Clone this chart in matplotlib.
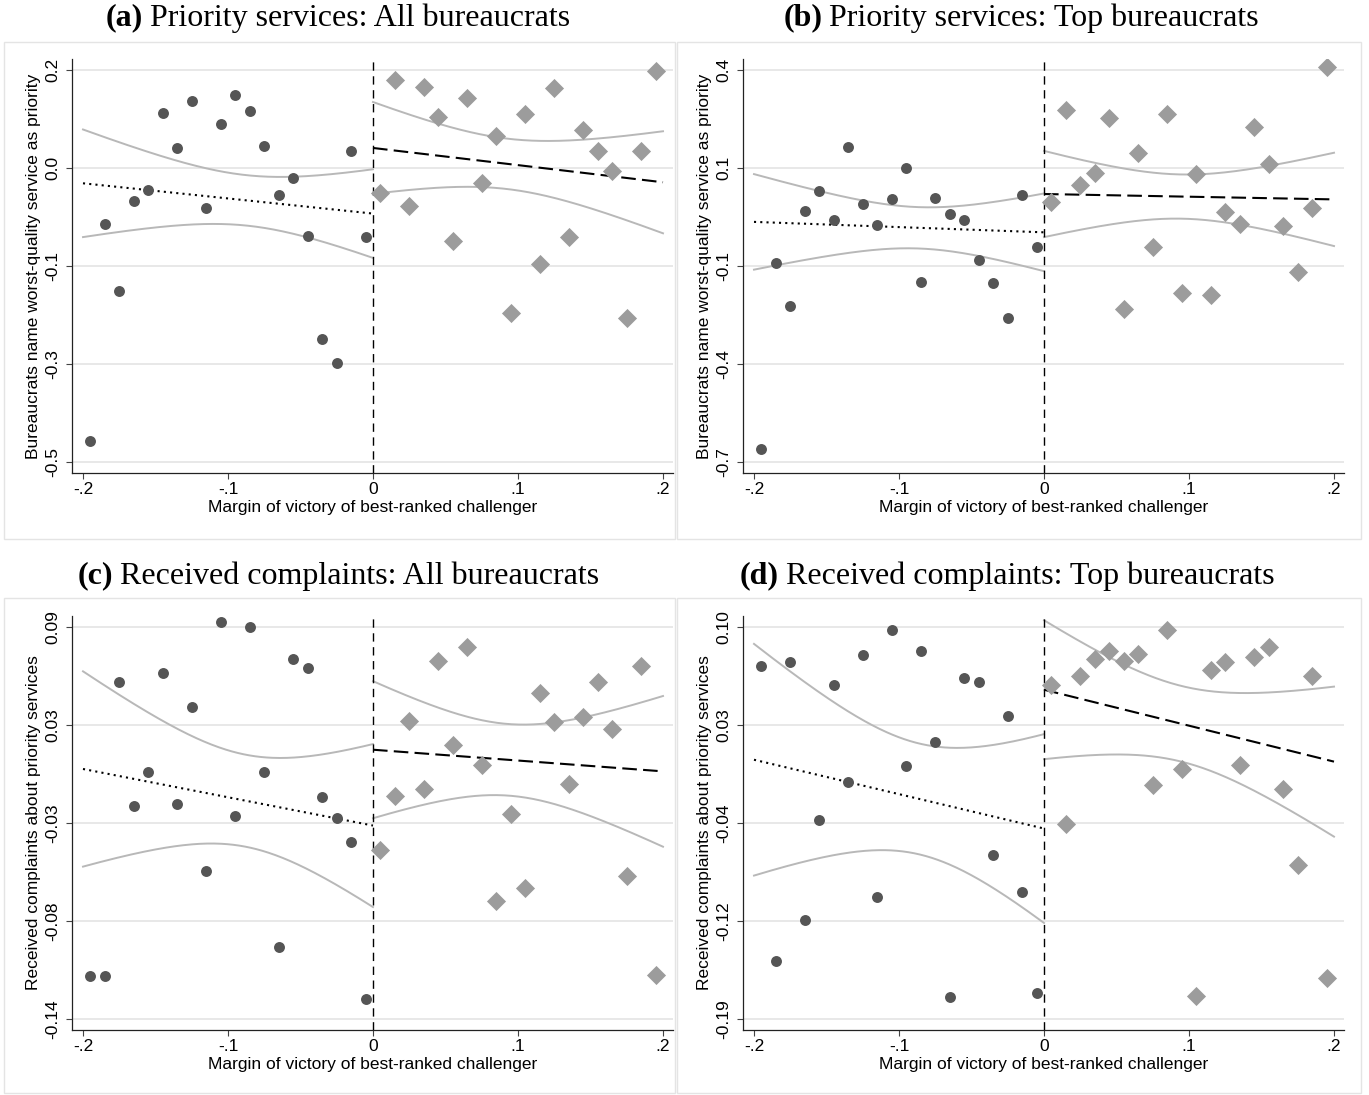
# ---------------------------------------
# 1. Imports
# ---------------------------------------
import numpy as np
import matplotlib.pyplot as plt
from matplotlib.patches import Rectangle

# ---------------------------------------
# 2. Data (binned means)
# ---------------------------------------
bins_left = [-0.195, -0.185, -0.175, -0.165, -0.155, -0.145, -0.135, -0.125, -0.115, -0.105,
             -0.095, -0.085, -0.075, -0.065, -0.055, -0.045, -0.035, -0.025, -0.015, -0.005]
bins_right = [0.005, 0.015, 0.025, 0.035, 0.045, 0.055, 0.065, 0.075, 0.085, 0.095,
              0.105, 0.115, 0.125, 0.135, 0.145, 0.155, 0.165, 0.175, 0.185, 0.195]

# (a) priority services, all bureaucrats
a_left = [-0.463, -0.075, -0.194, -0.034, -0.014, 0.124, 0.060, 0.145, -0.046, 0.104,
          0.156, 0.126, 0.064, -0.023, 0.008, -0.097, -0.281, -0.324, 0.055, -0.098]
a_right = [-0.020, 0.183, -0.043, 0.169, 0.116, -0.106, 0.150, -0.001, 0.083, -0.234,
           0.122, -0.146, 0.168, -0.099, 0.093, 0.055, 0.020, -0.243, 0.055, 0.199]

# (b) priority services, top bureaucrats
b_left = [-0.664, -0.142, -0.262, 0.004, 0.060, -0.021, 0.185, 0.025, -0.035, 0.038,
          0.124, -0.194, 0.041, -0.005, -0.021, -0.134, -0.197, -0.296, 0.048, -0.096]
b_right = [0.029, 0.289, 0.077, 0.112, 0.264, -0.271, 0.166, -0.097, 0.277, -0.226,
           0.108, -0.230, 0.001, -0.031, 0.240, 0.136, -0.039, -0.166, 0.012, 0.408]

# (c) received complaints, all bureaucrats
c_left = [-0.115, -0.115, 0.058, -0.015, 0.005, 0.063, -0.014, 0.043, -0.053, 0.093,
          -0.021, 0.090, 0.005, -0.098, 0.071, 0.066, -0.010, -0.022, -0.036, -0.128]
c_right = [-0.041, -0.009, 0.035, -0.005, 0.070, 0.021, 0.078, 0.009, -0.071, -0.020,
           -0.063, 0.051, 0.034, -0.002, 0.037, 0.058, 0.030, -0.056, 0.067, -0.114]

# (d) received complaints, top bureaucrats
d_left = [0.071, -0.147, 0.074, -0.117, -0.043, 0.057, -0.015, 0.079, -0.100, 0.098,
          -0.003, 0.082, 0.015, -0.174, 0.062, 0.059, -0.069, 0.034, -0.096, -0.171]
d_right = [0.057, -0.046, 0.064, 0.076, 0.082, 0.075, 0.080, -0.017, 0.098, -0.005,
           -0.173, 0.068, 0.074, -0.002, 0.078, 0.085, -0.020, -0.076, 0.064, -0.160]

# linear fit + 95% CI: [value at cutoff, slope, min half-width, se slope term, x of min]
fit_a_left = [-0.0564, -0.2705, 0.045, 0.750, -0.0868]
fit_a_right = [0.0608, -0.3065, 0.045, 0.739, 0.0928]
fit_b_left = [-0.0555, -0.1465, 0.058, 1.066, -0.0866]
fit_b_right = [0.0520, -0.0755, 0.062, 1.096, 0.0948]
fit_c_left = [-0.0265, -0.1660, 0.027, 0.450, -0.0877]
fit_c_right = [0.0180, -0.0635, 0.021, 0.366, 0.0937]
fit_d_left = [-0.0491, -0.2545, 0.041, 0.659, -0.0858]
fit_d_right = [0.0536, -0.2660, 0.028, 0.455, 0.0947]

# y ticks (Stata evenly spaced ticks, rounded labels)
yticks_a = [-0.5, -0.325, -0.15, 0.025, 0.2]
ylabels_a = ['-0.5', '-0.3', '-0.1', '0.0', '0.2']
yticks_b = [-0.7, -0.425, -0.15, 0.125, 0.4]
ylabels_b = ['-0.7', '-0.4', '-0.1', '0.1', '0.4']
yticks_c = [-0.14, -0.0825, -0.025, 0.0325, 0.09]
ylabels_c = ['-0.14', '-0.08', '-0.03', '0.03', '0.09']
yticks_d = [-0.19, -0.1175, -0.045, 0.0275, 0.10]
ylabels_d = ['-0.19', '-0.12', '-0.04', '0.03', '0.10']

xticks = [-0.2, -0.1, 0, 0.1, 0.2]
xlabels = ['-.2', '-.1', '0', '.1', '.2']

titles_bold = ['(a)', '(b)', '(c)', '(d)']
titles_text = ['Priority services: All bureaucrats', 'Priority services: Top bureaucrats',
               'Received complaints: All bureaucrats', 'Received complaints: Top bureaucrats']
ylab_top = 'Bureaucrats name worst-quality service as priority'
ylab_bottom = 'Received complaints about priority services'
xlab = 'Margin of victory of best-ranked challenger'

# ---------------------------------------
# 3. Figure setup
# ---------------------------------------
W, H = 1369, 1095
fig = plt.figure(figsize=(W / 100, H / 100), dpi=100)
plt.rcParams['font.family'] = ['Liberation Sans', 'DejaVu Sans']


def px_rect(l, t, r, b):
    return [l / W, 1 - b / H, (r - l) / W, (b - t) / H]


def draw_fit(ax, side_x, p, ls):
    a, b, c0, c1, xm = p
    x = np.linspace(side_x[0], side_x[1], 200)
    yhat = a + b * x
    h = np.sqrt(c0 ** 2 + c1 ** 2 * (x - xm) ** 2)
    ax.plot(x, yhat + h, color='#b8b8b8', lw=1.4, zorder=2)
    ax.plot(x, yhat - h, color='#b8b8b8', lw=1.4, zorder=2)
    ax.plot(x, yhat, color='black', lw=1.5, linestyle=ls, zorder=3)


def draw_panel(ox, oy, yl, yr, fl, fr, yticks, ylabels, ylabel):
    ax = fig.add_axes(px_rect(72 + ox, 59 + oy, 673 + ox, 473 + oy))
    ax.patch.set_alpha(0)
    lo, hi = yticks[0], yticks[-1]
    pad = 11 / 392 * (hi - lo)
    ax.set_ylim(lo - pad, hi + pad)
    ax.set_xlim(-0.2 - 11 / 1450, 0.2 + 10 / 1450)

    ax.set_yticks(yticks)
    ax.set_yticklabels(ylabels, rotation=90, va='center')
    ax.set_xticks(xticks)
    ax.set_xticklabels(xlabels)
    ax.yaxis.grid(True, color='#e6e6e6', lw=1.3)
    ax.set_axisbelow(True)
    for s in ['top', 'right']:
        ax.spines[s].set_visible(False)
    for s in ['left', 'bottom']:
        ax.spines[s].set_color('#222222')
        ax.spines[s].set_linewidth(0.9)
    ax.tick_params(axis='both', direction='out', length=4.5, width=0.8,
                   color='#444444', labelsize=12.5)
    ax.tick_params(axis='y', pad=4)
    ax.tick_params(axis='x', pad=2)

    ax.axvline(0, color='black', lw=1.0, dashes=(6, 4), zorder=3)
    draw_fit(ax, (-0.2, 0), fl, (0, (1, 2)))
    draw_fit(ax, (0, 0.2), fr, (0, (7, 3)))

    ax.scatter(bins_left, yl, s=62, color='#555555', marker='o', lw=0, zorder=4)
    ax.scatter(bins_right, yr, s=95, color='#9c9c9c', marker='D', lw=0, zorder=4)

    ax.set_xlabel(xlab, fontsize=12.5, labelpad=2)
    ax.set_ylabel(ylabel, fontsize=12.5, labelpad=3)
    return ax


# panel boxes (behind the axes)
for l, t, r, b in [(4, 42, 675, 539), (677, 42, 1361, 539),
                   (4, 598, 675, 1093), (677, 598, 1361, 1093)]:
    fig.patches.append(Rectangle((l / W, 1 - b / H), (r - l) / W, (b - t) / H,
                                 transform=fig.transFigure, facecolor='white',
                                 edgecolor='#e4e4e4', lw=1.0, zorder=-5))

# ---------------------------------------
# 4. Panels
# ---------------------------------------
draw_panel(0, 0, a_left, a_right, fit_a_left, fit_a_right, yticks_a, ylabels_a, ylab_top)
draw_panel(671, 0, b_left, b_right, fit_b_left, fit_b_right, yticks_b, ylabels_b, ylab_top)
draw_panel(0, 557, c_left, c_right, fit_c_left, fit_c_right, yticks_c, ylabels_c, ylab_bottom)
draw_panel(671, 557, d_left, d_right, fit_d_left, fit_d_right, yticks_d, ylabels_d, ylab_bottom)

# ---------------------------------------
# 5. Titles (bold label + regular text, centred)
# ---------------------------------------
renderer = fig.canvas.get_renderer()
title_centres = [(338, 18), (1021, 18), (338, 576), (1007, 576)]
for (cx, cy), tb, tt in zip(title_centres, titles_bold, titles_text):
    t1 = fig.text(0, 1 - cy / H, tb, fontsize=23, fontweight='bold',
                  family='Liberation Serif', va='center', ha='left')
    t2 = fig.text(0, 1 - cy / H, tt, fontsize=23,
                  family='Liberation Serif', va='center', ha='left')
    w1 = t1.get_window_extent(renderer).width
    w2 = t2.get_window_extent(renderer).width
    gap = 7
    x0 = cx - (w1 + gap + w2) / 2
    t1.set_x(x0 / W)
    t2.set_x((x0 + w1 + gap) / W)

fig.savefig('out.png', dpi=100)
